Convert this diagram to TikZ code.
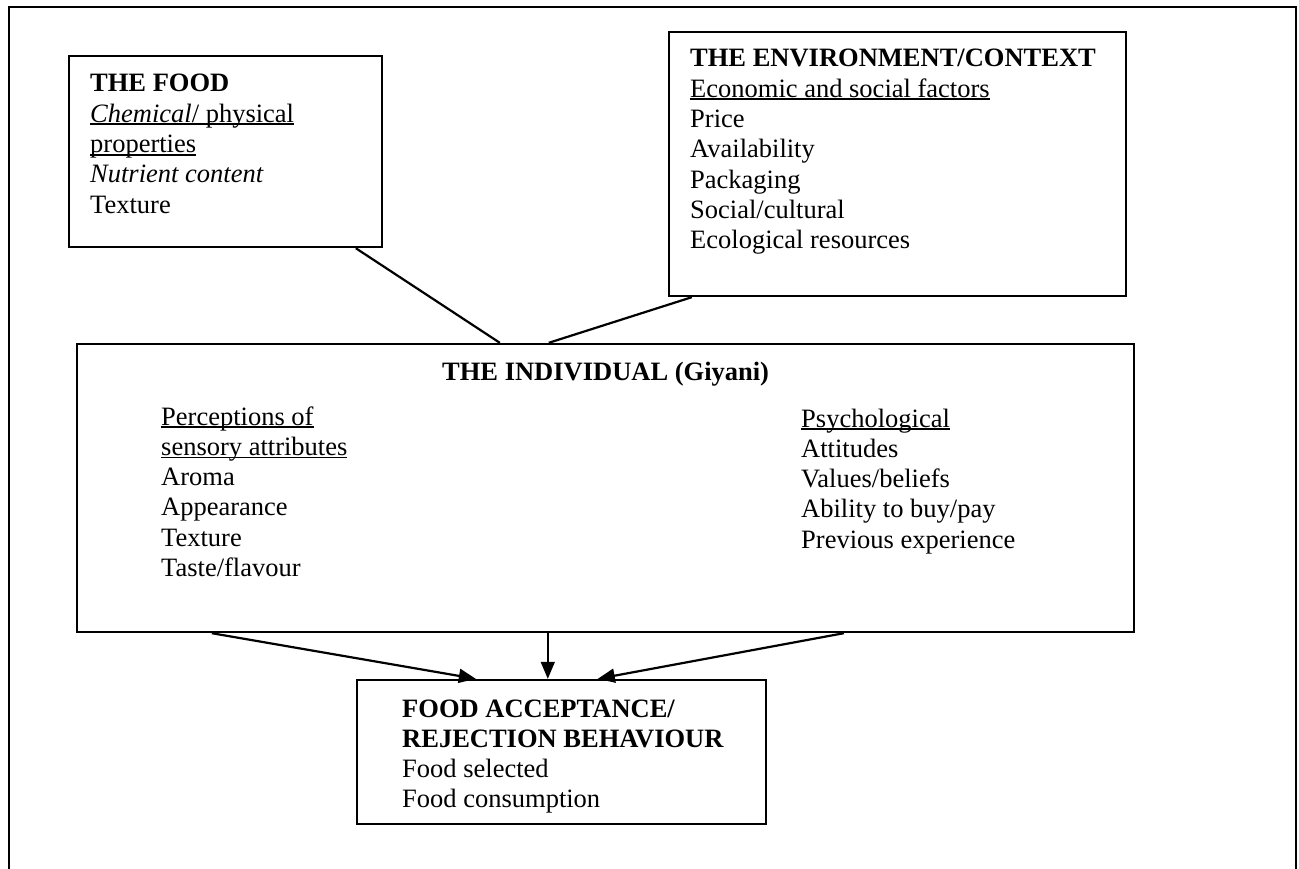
\documentclass[tikz,border=0pt]{standalone}
\usepackage{fontspec}
\setmainfont{Liberation Serif}
\usetikzlibrary{arrows.meta}
\newcommand\myul[1]{\setbox0=\hbox{#1}\rlap{\rule[-3pt]{\wd0}{1.8pt}}\box0}
\newcommand\lines[1]{\begin{tabular}[t]{@{}l@{}}#1\end{tabular}}
\begin{document}
\begin{tikzpicture}[x=1pt,y=-1pt,
  box/.style={draw,line width=2.4pt,rectangle,inner sep=0pt,fill=none},
  txt/.style={anchor=base west,inner sep=0pt,font=\fontsize{26.5}{30.3}\selectfont},
  conn/.style={line width=2.2pt},
  arr/.style={line width=2.2pt,-{Triangle[length=17pt,width=14pt]}},
  varr/.style={line width=1.6pt,-{Triangle[length=17pt,width=14pt]}}]
\useasboundingbox (0,0) rectangle (1299,869);
% outer frame (no bottom edge)
\coordinate (fbl) at (9,869);
\coordinate (ftl) at (9,7);
\coordinate (ftr) at (1296,7);
\coordinate (fbr) at (1296,869);
\draw[line width=2.4pt] (fbl) -- (ftl) -- (ftr) -- (fbr);
% boxes
\node[box,minimum width=313pt,minimum height=191pt] (food) at (225.5,151.5) {};
\node[box,minimum width=457pt,minimum height=264pt] (env) at (897.5,164) {};
\node[box,minimum width=1057pt,minimum height=288pt] (ind) at (605.5,488) {};
\node[box,minimum width=409pt,minimum height=144pt] (acc) at (561.5,752) {};
% texts
\node[txt] (foodtxt) at (90,92) {\lines{\textbf{THE FOOD}\\
  \myul{\textit{Chemical}/ physical}\\
  \myul{properties}\\
  \textit{Nutrient content}\\
  Texture}};
\node[txt] (envtxt) at (690,67) {\lines{\textbf{THE ENVIRONMENT/CONTEXT}\\
  \myul{Economic and social factors}\\
  Price\\ Availability\\ Packaging\\ Social/cultural\\ Ecological resources}};
\node[txt] (indtitle) at (442,380) {\textbf{THE INDIVIDUAL (Giyani)}};
\node[txt] (perc) at (161,425) {\lines{\myul{Perceptions of}\\
  \myul{sensory attributes}\\
  Aroma\\ Appearance\\ Texture\\ Taste/flavour}};
\node[txt] (psych) at (801,427) {\lines{\myul{Psychological}\\
  Attitudes\\ Values/beliefs\\ Ability to buy/pay\\ Previous experience}};
\node[txt] (acctxt) at (402,717) {\lines{\textbf{FOOD ACCEPTANCE/}\\
  \textbf{REJECTION BEHAVIOUR}\\
  Food selected\\ Food consumption}};
% connectors
\draw[conn] ([xshift=288pt]food.south west) -- ([xshift=424pt]ind.north west);
\draw[conn] ([xshift=24pt]env.south west) -- ([xshift=473pt]ind.north west);
\draw[arr] ([xshift=136pt]ind.south west) -- ([xshift=120pt]acc.north west);
\draw[varr] ([xshift=472pt]ind.south west) -- ([xshift=192pt]acc.north west);
\draw[arr] ([xshift=768pt]ind.south west) -- ([xshift=242pt]acc.north west);
\end{tikzpicture}
\end{document}
